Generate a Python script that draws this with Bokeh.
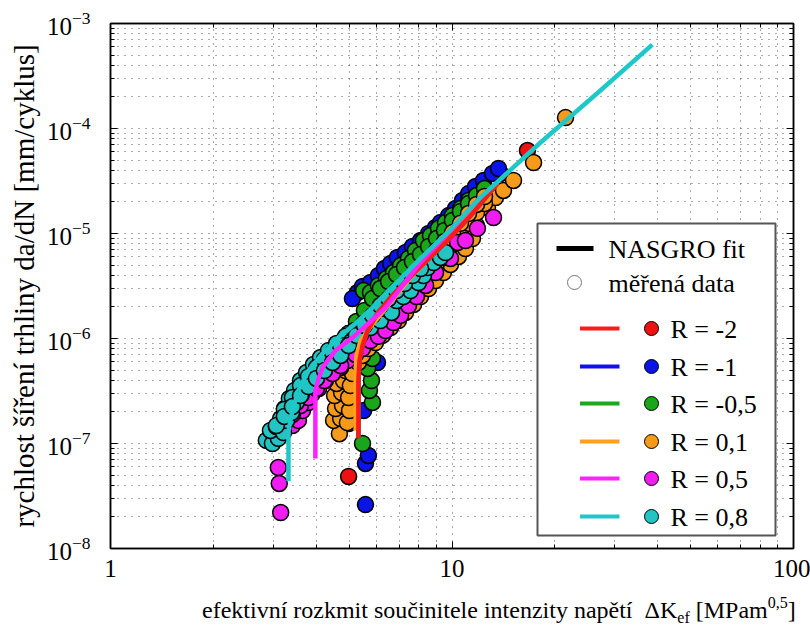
from bokeh.plotting import figure
from bokeh.models import LogAxis, FixedTicker, BoxAnnotation, Label, CustomJSTickFormatter, Div
from bokeh.layouts import column
from bokeh.embed import file_html
from bokeh.resources import INLINE

# ---------------- ticks ----------------
X_TICKS = [1, 10, 100]
X_TICK_LABELS = {1: "1", 10: "10", 100: "100"}
X_MINOR = [m * 10 ** k for k in (0, 1) for m in range(2, 10)]
Y_TICKS = [1e-8, 1e-7, 1e-6, 1e-5, 1e-4, 1e-3]
Y_MINOR = [m * 10.0 ** k for k in range(-8, -3) for m in range(2, 10)]

R_LABELS = ["R = -2", "R = -1", "R = -0,5", "R = 0,1", "R = 0,5", "R = 0,8"]

rm2_x = [4.98, 6.83, 7.82, 8.95, 10.24, 11.48, 12.37, 13.87, 16.63]
rm2_y = [4.85e-8, 4.64e-6, 7.19e-6, 1.07e-5, 1.66e-5, 2.30e-5, 2.99e-5, 3.73e-5, 6.17e-5]

rm1_x = [5.58, 5.58, 5.69, 4.98, 5.51, 6.05, 5.29, 5.11, 5.47, 5.77, 6.09, 6.34, 6.61, 6.92,
         7.31, 7.66, 8.09, 8.54, 8.95, 9.25, 9.77, 10.24, 10.73, 11.18, 11.72, 12.37, 13.14, 13.68]
rm1_y = [2.62e-8, 6.45e-8, 7.69e-8, 1.55e-7, 2.06e-7, 5.91e-7, 2.74e-6, 2.40e-6, 3.13e-6, 3.41e-6,
         3.98e-6, 4.64e-6, 5.18e-6, 5.91e-6, 6.59e-6, 7.52e-6, 8.57e-6, 1.0e-5, 1.14e-5, 1.27e-5,
         1.48e-5, 1.73e-5, 2.06e-5, 2.40e-5, 2.80e-5, 3.2e-5, 3.73e-5, 4.16e-5]

rm05_x = [5.47, 5.85, 5.73, 5.81, 5.66, 5.85, 5.51, 5.77, 6.09, 6.43, 6.74, 7.07, 7.46, 7.82,
          8.25, 8.65, 9.13, 9.57, 10.03, 10.59, 11.18,
          4.98, 5.25, 5.54, 5.85, 6.17, 6.52, 6.88, 7.26, 7.66, 8.09, 8.54, 9.01, 9.51, 10.03,
          10.59, 11.18, 11.80, 12.45]
rm05_y = [1.0e-7, 2.46e-7, 3.2e-7, 3.98e-7, 5.18e-7, 6.45e-7, 2.86e-6, 2.74e-6, 3.2e-6, 3.73e-6,
          4.25e-6, 4.95e-6, 5.78e-6, 6.89e-6, 8.57e-6, 9.57e-6, 1.12e-5, 1.27e-5, 1.48e-5,
          1.73e-5, 2.06e-5,
          1.12e-6, 1.45e-6, 1.85e-6, 2.40e-6, 2.99e-6, 3.49e-6, 4.07e-6, 4.74e-6, 5.41e-6, 6.31e-6,
          7.52e-6, 8.96e-6, 1.07e-5, 1.33e-5, 1.62e-5, 1.93e-5, 2.30e-5, 2.68e-5]

r01_x = [4.68, 4.50, 4.72, 4.94, 4.56, 4.78, 5.01, 4.53, 4.75, 4.98, 4.59, 4.81, 5.04, 4.88,
         5.11, 5.32, 5.47, 5.69, 5.97, 6.26, 6.61, 6.97, 7.31, 7.72, 8.09, 8.54, 8.95, 9.44,
         9.90, 10.45, 10.95, 11.48, 11.8, 12.7, 13.41, 14.15, 15.14, 17.33, 21.5,
         4.98, 5.25, 5.54, 5.85, 6.17, 6.52, 6.88, 7.26, 7.66, 8.09, 8.54, 9.01, 9.51, 10.03,
         10.59, 11.18, 11.80, 12.45,
         8.54, 9.01, 9.51, 10.03, 10.59, 11.18, 11.80, 12.45]
r01_y = [1.24e-7, 1.66e-7, 1.73e-7, 1.58e-7, 2.15e-7, 2.30e-7, 2.06e-7, 2.86e-7, 3.06e-7,
         2.74e-7, 3.73e-7, 3.98e-7, 3.56e-7, 4.95e-7, 4.64e-7, 5.91e-7, 6.89e-7, 8.03e-7,
         9.16e-7, 1.07e-6, 1.27e-6, 1.48e-6, 1.77e-6, 2.11e-6, 2.51e-6, 2.99e-6, 3.56e-6,
         4.25e-6, 5.07e-6, 6.04e-6, 7.19e-6, 8.96e-6, 1.19e-5, 1.77e-5, 2.2e-5, 2.57e-5,
         3.2e-5, 4.74e-5, 1.27e-4,
         6.59e-7, 7.86e-7, 9.36e-7, 1.17e-6, 1.39e-6, 1.69e-6, 2.02e-6, 2.40e-6, 2.86e-6,
         3.49e-6, 4.25e-6, 5.18e-6, 6.45e-6, 7.86e-6, 9.78e-6, 1.25e-5, 1.58e-5, 1.93e-5,
         5.65e-6, 6.89e-6, 8.39e-6, 1.02e-5, 1.25e-5, 1.55e-5, 1.89e-5, 2.25e-5]

r05_x = [3.10, 3.12, 3.15, 3.41, 3.55, 3.65, 3.80, 3.90, 4.07, 4.26, 4.47, 4.72, 4.94, 5.22,
         5.47, 5.77, 6.09, 6.39, 6.74, 7.07, 7.46, 7.87, 8.37, 8.95, 9.44, 9.90, 10.38, 10.95,
         11.87, 13.23,
         3.23, 3.41, 3.60, 3.80, 4.01, 4.23, 4.47, 4.72]
r05_y = [5.9e-8, 4.16e-8, 2.2e-8, 1.48e-7, 1.66e-7, 2.06e-7, 2.46e-7, 2.99e-7, 3.34e-7,
         3.98e-7, 4.74e-7, 5.3e-7, 6.17e-7, 7.05e-7, 8.03e-7, 9.57e-7, 1.05e-6, 1.19e-6,
         1.42e-6, 1.66e-6, 2.06e-6, 2.51e-6, 3.2e-6, 4.25e-6, 5.91e-6, 5.78e-6, 8.21e-6,
         8.57e-6, 1.12e-5, 1.42e-5,
         1.55e-7, 1.89e-7, 2.30e-7, 2.74e-7, 3.34e-7, 3.98e-7, 4.64e-7, 5.53e-7]

r08_x = [2.86, 2.98, 3.10, 2.94, 3.06, 3.21, 3.15, 3.28, 3.23, 3.39, 3.34, 3.50, 3.46, 3.62,
         3.60, 3.75, 3.75, 3.90, 3.93, 4.09, 4.12, 4.32, 4.35, 4.53, 4.59, 4.81, 4.88, 5.08,
         5.18, 5.40, 5.51, 5.77, 5.89, 6.17, 6.34, 6.65, 6.88, 7.21, 7.56, 7.98, 8.25, 8.48,
         8.83, 9.25, 9.57,
         3.06, 3.23, 3.23, 3.41, 3.41, 3.60, 3.60, 3.80, 3.80, 4.01, 4.01, 4.23, 4.23, 4.47,
         4.47, 4.72, 4.72, 4.98, 5.25, 5.54, 5.85, 6.17, 6.52, 6.88, 7.26, 7.66, 8.09]
r08_y = [1.07e-7, 1.0e-7, 1.12e-7, 1.33e-7, 1.45e-7, 1.27e-7, 1.73e-7, 1.66e-7, 2.15e-7,
         1.97e-7, 2.68e-7, 2.46e-7, 3.2e-7, 2.93e-7, 3.98e-7, 3.56e-7, 4.74e-7, 4.25e-7,
         5.65e-7, 5.07e-7, 6.59e-7, 5.91e-7, 7.69e-7, 6.89e-7, 8.96e-7, 8.03e-7, 1.05e-6,
         9.36e-7, 1.19e-6, 1.09e-6, 1.39e-6, 1.27e-6, 1.62e-6, 1.48e-6, 1.93e-6, 1.77e-6,
         2.30e-6, 2.51e-6, 2.86e-6, 3.41e-6, 3.98e-6, 4.74e-6, 5.29e-6, 5.91e-6, 6.59e-6,
         1.48e-7, 2.11e-7, 1.81e-7, 2.74e-7, 2.25e-7, 3.56e-7, 2.86e-7, 4.35e-7, 3.49e-7,
         5.29e-7, 4.16e-7, 6.31e-7, 4.95e-7, 7.36e-7, 5.91e-7, 8.57e-7, 6.89e-7, 8.57e-7,
         1.07e-6, 1.33e-6, 1.66e-6, 2.06e-6, 2.40e-6, 2.86e-6, 3.34e-6, 3.98e-6, 4.64e-6]

# ---------------- NASGRO fit curves ----------------
fit_rm2_x = [5.32, 5.32, 5.36, 5.47, 5.66, 6.05, 6.61, 7.72, 9.70, 11.33, 13.6]
fit_rm2_y = [1.12e-7, 4.0e-7, 6.2e-7, 8.6e-7, 1.19e-6, 1.73e-6, 2.45e-6, 4.16e-6, 8.6e-6, 1.48e-5, 3.0e-5]
fit_rm1_x = [5.32, 5.32, 5.36, 5.47, 5.66, 6.05, 6.61, 7.72, 9.70, 11.33, 13.6]
fit_rm1_y = [1.12e-7, 4.0e-7, 6.2e-7, 8.6e-7, 1.19e-6, 1.73e-6, 2.45e-6, 4.16e-6, 8.6e-6, 1.48e-5, 3.0e-5]
fit_rm05_x = [5.32, 5.32, 5.36, 5.47, 5.66, 6.05, 6.61, 7.72, 9.70, 11.33, 13.6]
fit_rm05_y = [1.12e-7, 4.0e-7, 6.2e-7, 8.6e-7, 1.19e-6, 1.73e-6, 2.45e-6, 4.16e-6, 8.6e-6, 1.48e-5, 3.0e-5]
fit_r01_x = [5.22, 5.22, 5.25, 5.40, 5.81, 6.39, 7.56, 9.70, 11.33, 13.6]
fit_r01_y = [1.33e-7, 4.44e-7, 6.89e-7, 9.57e-7, 1.33e-6, 1.93e-6, 3.81e-6, 8.96e-6, 1.59e-5, 3.0e-5]
fit_r05_x = [3.98, 3.98, 4.07, 4.18, 4.56, 5.11, 5.69, 6.39, 8.09, 9.90, 12.1]
fit_r05_y = [7.2e-8, 3.2e-7, 4.16e-7, 5.3e-7, 7.7e-7, 1.02e-6, 1.39e-6, 1.97e-6, 5.3e-6, 1.07e-5, 2.2e-5]
fit_r08_x = [3.32, 3.32, 3.41, 3.55, 3.80, 4.18, 4.65, 5.22, 5.85, 6.39, 8.09, 9.90, 12.1, 18.2, 27.2, 38.6]
fit_r08_y = [4.4e-8, 1.33e-7, 2.06e-7, 3.2e-7, 4.95e-7, 7.2e-7, 1.02e-6, 1.39e-6, 1.97e-6,
             2.68e-6, 5.8e-6, 1.09e-5, 2.2e-5, 7.4e-5, 2.3e-4, 6.3e-4]

# ---------------- styling ----------------
FONT = "Liberation Serif"
DOT_COLORS = ["#ee1111", "#0a14e6", "#1aa51a", "#f59a1a", "#f01cf0", "#22c4c4"]
LINE_COLORS = ["#ff1a1a", "#1010ee", "#18aa18", "#ffa020", "#ff22ff", "#1ec8c8"]

W = 810
H_MAIN = 595
H_XLAB = 29
FL, FR, FT, FB = 110, 793, 23, 548  # plot frame in page pixels

p = figure(width=W, height=H_MAIN, x_axis_type="log", y_axis_type="log",
           x_range=(1, 100), y_range=(1e-8, 1e-3),
           output_backend="svg", toolbar_location=None,
           min_border_left=FL, min_border_right=W - FR, min_border_top=FT,
           min_border_bottom=H_MAIN - FB)
p.background_fill_color = "white"
p.border_fill_color = "white"
p.outline_line_color = "black"
p.outline_line_width = 1.5

xt = FixedTicker(ticks=X_TICKS, minor_ticks=X_MINOR)
yt = FixedTicker(ticks=Y_TICKS, minor_ticks=Y_MINOR)
p.xaxis.ticker = xt
p.yaxis.ticker = yt
p.xgrid.ticker = xt
p.ygrid.ticker = yt

for g in (p.xgrid, p.ygrid):
    g.grid_line_color = "#555555"
    g.grid_line_dash = "1 6"
    g.grid_line_width = 1
    g.minor_grid_line_color = "#555555"
    g.minor_grid_line_dash = "1 6"
    g.minor_grid_line_width = 1


def style_axis(ax):
    ax.axis_line_color = "black"
    ax.axis_line_width = 1.5
    ax.major_tick_in = 7
    ax.major_tick_out = 0
    ax.minor_tick_in = 4
    ax.minor_tick_out = 0
    ax.major_tick_line_color = "black"
    ax.minor_tick_line_color = "black"
    ax.major_label_text_font = FONT
    ax.major_label_text_font_size = "25px"
    ax.major_label_text_color = "black"


style_axis(p.xaxis[0])
style_axis(p.yaxis[0])
p.xaxis.major_label_overrides = X_TICK_LABELS
p.xaxis.major_label_standoff = 11
p.yaxis.major_label_standoff = 20
p.yaxis.axis_label = "rychlost šíření trhliny da/dN [mm/cyklus]"
p.yaxis.axis_label_text_font = FONT
p.yaxis.axis_label_text_font_style = "normal"
p.yaxis.axis_label_text_font_size = "29px"
p.yaxis.axis_label_text_color = "black"
p.yaxis.axis_label_standoff = 4

blank = CustomJSTickFormatter(code="return ' '")
top_ax = LogAxis(ticker=xt, formatter=blank)
right_ax = LogAxis(ticker=yt, formatter=blank)
for ax in (top_ax, right_ax):
    style_axis(ax)
    ax.major_label_text_font_size = "1px"
    ax.major_label_standoff = 0
p.add_layout(top_ax, "above")
p.add_layout(right_ax, "right")

# ---------------- data points ----------------
series = [(rm2_x, rm2_y), (rm1_x, rm1_y), (rm05_x, rm05_y), (r01_x, r01_y), (r05_x, r05_y), (r08_x, r08_y)]
for (xs, ys), c in zip(series, DOT_COLORS):
    p.scatter(xs, ys, size=16, fill_color=c, line_color="black", line_width=1.5)

fits = [(fit_rm1_x, fit_rm1_y, 1), (fit_rm05_x, fit_rm05_y, 2), (fit_r01_x, fit_r01_y, 3),
        (fit_rm2_x, fit_rm2_y, 0), (fit_r05_x, fit_r05_y, 4), (fit_r08_x, fit_r08_y, 5)]
for xs, ys, i in fits:
    p.line(xs, ys, line_color=LINE_COLORS[i], line_width=4.5, line_join="round", line_cap="butt")


# ---------------- manual legend (screen units relative to the plot frame) ----------------
def sx(v):
    return v - FL


def sy(v):
    return FB - v


def box(l, r, t, b, fill, line=None, lw=0, radius=0):
    kw = dict(left=sx(l), right=sx(r), top=sy(t), bottom=sy(b),
              left_units="screen", right_units="screen", top_units="screen", bottom_units="screen",
              fill_color=fill, fill_alpha=1.0, line_color=line, line_width=lw, line_alpha=1.0)
    if radius:
        kw["border_radius"] = radius
    p.add_layout(BoxAnnotation(**kw))


def text(x, y, s, size="26px", baseline="middle"):
    p.add_layout(Label(x=sx(x), y=sy(y), x_units="screen", y_units="screen", text=s,
                       text_font=FONT, text_font_size=size, text_color="black",
                       text_align="left", text_baseline=baseline))


box(537, 775, 223, 535, "white", "#555555", 2)
box(556, 593, 245.5, 250.5, "black")
text(608, 249, "NASGRO fit")
box(567, 581, 275, 289, "white", "#777777", 1, 7)
text(608, 283, "měřená data")
row_y = [328, 366, 403, 441, 478, 516]
for yy, lab, lc, dc in zip(row_y, R_LABELS, LINE_COLORS, DOT_COLORS):
    box(579.5, 619, yy - 2, yy + 2, lc)
    box(644, 658, yy - 7, yy + 7, dc, "black", 1, 7)
    text(670, yy + 1, lab)

# ---------------- x-axis label (HTML text with sub/superscripts) ----------------
XLAB_HTML = (
    "<div style=\"position:relative;width:%dpx;height:%dpx;\">"
    "<div style=\"position:absolute;left:202px;top:1px;white-space:nowrap;"
    "font-family:'Liberation Serif';font-size:24px;line-height:28px;color:black;\">"
    "efektivní rozkmit součinitele intenzity napětí&nbsp;&nbsp;ΔK"
    "<sub style=\"font-size:16px;line-height:0;vertical-align:-5px;\">ef</sub>"
    "&nbsp;[MPam<sup style=\"font-size:16px;line-height:0;vertical-align:10px;\">0,5</sup>]"
    "</div></div>" % (W, H_XLAB)
)
xlab = Div(text=XLAB_HTML, width=W, height=H_XLAB, margin=0)

layout = column(p, xlab)
open("out.html", "w").write(file_html(layout, INLINE))
